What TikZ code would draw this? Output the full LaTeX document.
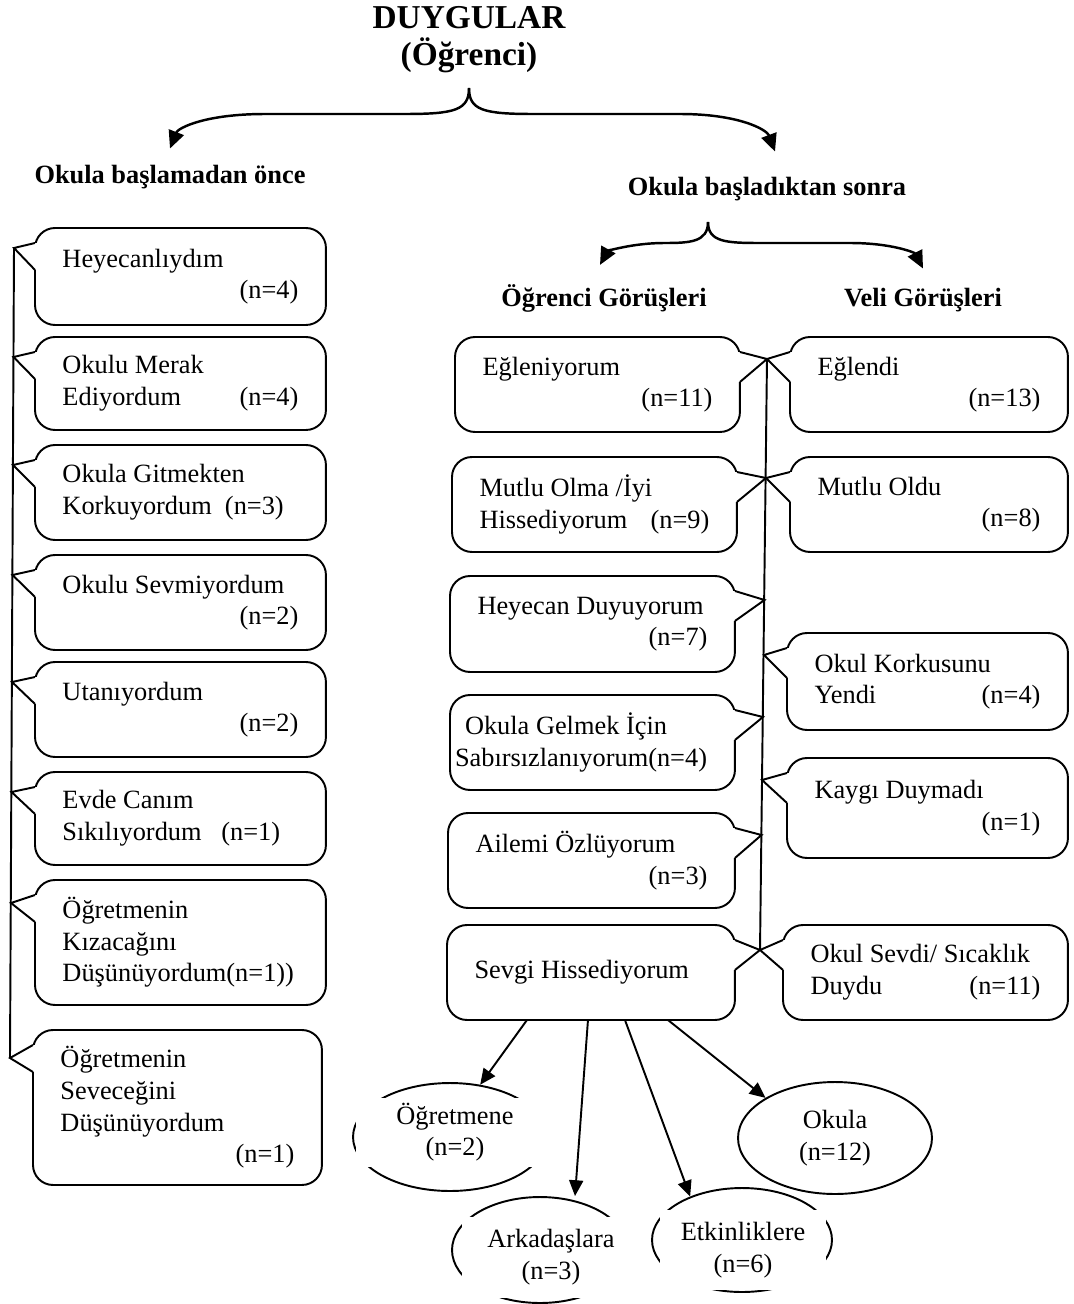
\documentclass[tikz,border=0pt]{standalone}
\usepackage{fontspec}
\setmainfont{Liberation Serif}
\usetikzlibrary{arrows.meta,shapes.geometric}
\hyphenpenalty=10000 \exhyphenpenalty=10000

\tikzset{
  bubble/.style 2 args={draw, line width=1.1pt, rounded corners=0.4cm, anchor=north west,
    align=flush left, inner xsep=0.55cm, inner ysep=0pt, outer sep=0pt,
    text width=#1, minimum height=#2, font=\fontsize{15}{18}\selectfont},
  head/.style={anchor=base, font=\fontsize{15}{18}\bfseries\selectfont},
  notch/.style={line width=1.1pt},
  erase/.style={white, line width=3pt},
  brace/.style={line width=1.4pt, -{Triangle[length=10pt,width=9pt]}},
  ray/.style={line width=1.1pt, -{Triangle[length=9pt,width=8pt]}},
  ell/.style={draw, ellipse, line width=1.1pt, inner sep=0pt, align=center, font=\fontsize{15}{18}\selectfont},
  tag/.style={fill=white, inner sep=0pt, align=center, font=\fontsize{15}{18}\selectfont}
}
\newcommand\nval[1]{\hspace*{0pt plus 1filll}(n=#1)}

\begin{document}
\begin{tikzpicture}[x=0.02cm, y=-0.02cm]
\useasboundingbox (0,0) rectangle (1073,1304);

 % headings
 \node[font=\fontsize{19}{21}\bfseries\selectfont, align=center] (top) at (469,40) {DUYGULAR\\(Öğrenci)};
 \node[head] (before) at (170,184) {Okula başlamadan önce};
 \node[head] (after) at (767,195) {Okula başladıktan sonra};
 \node[head] (stud) at (604,306) {Öğrenci Görüşleri};
 \node[head] (par) at (923,306) {Veli Görüşleri};

 \coordinate (fork1) at (469,88);
 \coordinate (fork2) at (708,222);

 \draw[brace] (fork1) .. controls (469,110) and (455,114) .. (405,114) -- (265,114)
   .. controls (205,114) and (178,128) .. ([yshift=0.22cm]before.north);
 \draw[brace] (fork1) .. controls (469,110) and (483,114) .. (533,114) -- (680,114)
   .. controls (740,114) and (767,130) .. ([xshift=0.16cm,yshift=0.38cm]after.north);
 \draw[brace] (fork2) .. controls (708,242) and (690,243) .. (665,243)
   .. controls (630,243) and (607,252) .. ([xshift=-0.08cm,yshift=0.26cm]stud.north);
 \draw[brace] (fork2) .. controls (708,242) and (726,243) .. (760,243) -- (850,243)
   .. controls (893,243) and (915,253) .. ([yshift=0.26cm]par.north);

 %before school
 \node[bubble={4.72cm}{1.94cm}] (L1) at (35,228) {Heyecanlıydım\\\nval{4}};
 \node[bubble={4.72cm}{1.86cm}] (L2) at (35,337) {Okulu Merak\\Ediyordum\nval{4}};
 \node[bubble={4.72cm}{1.9cm}] (L3) at (35,445) {Okula Gitmekten\\Korkuyordum~~(n=3)};
 \node[bubble={4.72cm}{1.9cm}] (L4) at (35,555) {Okulu Sevmiyordum\\\nval{2}};
 \node[bubble={4.72cm}{1.9cm}] (L5) at (35,662) {Utanıyordum\\\nval{2}};
 \node[bubble={4.72cm}{1.86cm}] (L6) at (35,772) {Evde Canım\\Sıkılıyordum~~~(n=1)};
 \node[bubble={4.72cm}{2.5cm}] (L7) at (35,880) {Öğretmenin\\Kızacağını\\Düşünüyordum(n=1))};
 \node[bubble={4.68cm}{3.1cm}] (L8) at (33,1030) {Öğretmenin\\Seveceğini\\Düşünüyordum\\\nval{1}};

 \foreach \i/\x/\y in {1/14/248, 2/13.5/357, 3/13/465, 4/12.5/575, 5/12/682, 6/11.5/792, 7/11/903, 8/10/1058}
   \coordinate (tl\i) at (\x,\y);
 \draw[notch] (tl1) -- (tl8);
 \foreach \i in {1,...,8} {
   \draw[erase] ([yshift=-0.3cm]L\i.north west) -- ([yshift=-0.84cm]L\i.north west);
   \draw[notch] ([yshift=-0.3cm]L\i.north west) -- (tl\i) -- ([yshift=-0.84cm]L\i.north west);
 }

 %after school, students
 \node[bubble={4.6cm}{1.9cm}] (M1) at (455,337) {Eğleniyorum\\\nval{11}};
 \node[bubble={4.6cm}{1.9cm}] (M2) at (452,457) {Mutlu Olma /İyi\\Hissediyorum\nval{9}};
 \node[bubble={4.6cm}{1.92cm}] (M3) at (450,576) {Heyecan Duyuyorum\\\nval{7}};
 \node[bubble={5.5cm}{1.9cm}, inner xsep=0.1cm] (M4) at (450,695) {\hspace*{0.2cm}Okula Gelmek İçin\\Sabırsızlanıyorum(n=4)};
 \node[bubble={4.64cm}{1.9cm}] (M5) at (448,813) {Ailemi Özlüyorum\\\nval{3}};
 \node[bubble={4.66cm}{1.9cm}] (M6) at (447,925) {Sevgi Hissediyorum};

 %after school, parents
 \node[bubble={4.46cm}{1.9cm}] (R1) at (790,337) {Eğlendi\\\nval{13}};
 \node[bubble={4.46cm}{1.9cm}] (R2) at (790,457) {Mutlu Oldu\\\nval{8}};
 \node[bubble={4.52cm}{1.94cm}] (R3) at (787,633) {Okul Korkusunu\\Yendi\nval{4}};
 \node[bubble={4.52cm}{2.0cm}] (R4) at (787,758) {Kaygı Duymadı\\\nval{1}};
 \node[bubble={4.6cm}{1.9cm}] (R5) at (783,925) {Okul Sevdi/ Sıcaklık\\Duydu\nval{11}};

 % lines
 \foreach \i/\x/\y in {1/767/359, 2/766/478, 3/764.5/600, 4/764/655, 5/763/717, 6/762/780, 7/761.5/835, 8/760/950}
   \coordinate (c\i) at (\x,\y);
 \draw[notch] (c1) -- (c8);
 \foreach \i/\j in {1/c1, 2/c2, 3/c3, 4/c5, 5/c7, 6/c8} {
   \draw[erase] ([yshift=-0.3cm]M\i.north east) -- ([yshift=-0.9cm]M\i.north east);
   \draw[notch] ([yshift=-0.3cm]M\i.north east) -- (\j) -- ([yshift=-0.9cm]M\i.north east);
 }
 \foreach \i/\j in {1/c1, 2/c2, 3/c4, 4/c6, 5/c8} {
   \draw[erase] ([yshift=-0.3cm]R\i.north west) -- ([yshift=-0.9cm]R\i.north west);
   \draw[notch] ([yshift=-0.3cm]R\i.north west) -- (\j) -- ([yshift=-0.9cm]R\i.north west);
 }

 %love for
 \node[ell, minimum width=3.88cm, minimum height=2.16cm] (E1) at (450,1137) {};
 \node[ell, minimum width=3.88cm, minimum height=2.24cm] (E2) at (835,1138) {Okula\\(n=12)};
 \node[ell, minimum width=3.52cm, minimum height=2.12cm] (E3) at (540,1250) {};
 \node[ell, minimum width=3.6cm, minimum height=2.08cm] (E4) at (742,1240) {};
 \node[tag, minimum width=3.98cm, minimum height=1.38cm] (t1) at (455,1132) {Öğretmene\\(n=2)};
 \node[tag, minimum width=3.56cm, minimum height=1.62cm] (t3) at (551,1257) {Arkadaşlara\\(n=3)};
 \node[tag, minimum width=3.32cm, minimum height=1.6cm] (t4) at (743,1250) {Etkinliklere\\(n=6)};

 \draw[ray] ([xshift=-1.28cm]M6.south) -- (E1.60);
 \draw[ray] ([xshift=-0.06cm]M6.south) -- ([xshift=0.7cm]E3.north);
 \draw[ray] ([xshift=0.68cm]M6.south) -- (E4.140);
 \draw[ray] ([xshift=1.54cm]M6.south) -- (E2.150);

\end{tikzpicture}
\end{document}
